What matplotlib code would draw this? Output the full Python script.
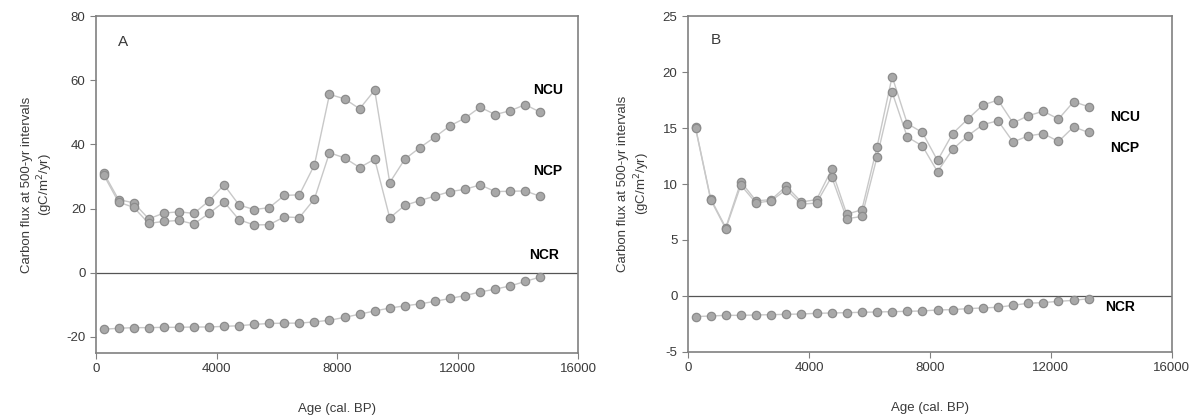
import matplotlib.pyplot as plt
import numpy as np

plt.rcParams['font.family'] = ['Liberation Sans', 'DejaVu Sans']
plt.rcParams['axes.unicode_minus'] = False

# panel A (500-yr bins, 250 .. 14750 cal BP)
age_a = np.arange(250, 15000, 500)
ncu_a = [31.2, 22.8, 21.8, 16.8, 18.6, 19.0, 18.5, 22.4, 27.4, 21.1,
         19.7, 20.3, 24.1, 24.3, 33.6, 55.6, 54.2, 51.1, 56.9, 28.1,
         35.4, 39.0, 42.3, 45.8, 48.2, 51.6, 49.3, 50.5, 52.4, 50.0]
ncp_a = [30.6, 22.0, 20.4, 15.4, 16.0, 16.3, 15.2, 18.5, 22.1, 16.5,
         14.9, 15.0, 17.4, 17.2, 23.0, 37.4, 35.8, 32.8, 35.4, 17.1,
         21.0, 22.5, 23.9, 25.3, 26.0, 27.4, 25.3, 25.4, 25.5, 23.8]
ncr_a = [-17.6, -17.3, -17.1, -17.1, -17.0, -17.0, -16.9, -16.9, -16.7, -16.5,
         -16.1, -15.8, -15.7, -15.7, -15.3, -14.8, -13.9, -12.9, -11.9, -11.0,
         -10.3, -9.7, -8.9, -8.0, -7.1, -6.0, -5.1, -4.1, -2.7, -1.3]

# panel B (250 .. 13250 cal BP)
age_b = np.arange(250, 13500, 500)
ncu_b = [15.05, 8.7, 6.1, 10.2, 8.5, 8.6, 9.8, 8.4, 8.6, 11.3,
         7.3, 7.7, 13.3, 19.6, 15.4, 14.6, 12.1, 14.5, 15.8, 17.05,
         17.5, 15.45, 16.1, 16.5, 15.8, 17.35, 16.9]
ncp_b = [15.0, 8.6, 6.0, 9.9, 8.3, 8.5, 9.5, 8.2, 8.3, 10.65,
         6.9, 7.1, 12.4, 18.2, 14.2, 13.4, 11.1, 13.1, 14.3, 15.3,
         15.65, 13.75, 14.3, 14.5, 13.8, 15.1, 14.6]
ncr_b = [-1.84, -1.79, -1.73, -1.73, -1.70, -1.67, -1.64, -1.61, -1.55, -1.52,
         -1.49, -1.46, -1.43, -1.40, -1.37, -1.34, -1.25, -1.22, -1.13, -1.07,
         -1.01, -0.83, -0.65, -0.59, -0.48, -0.39, -0.24]

line_col = '#c8c8c8'
face_col = '#a8a8a8'
edge_col = '#8c8c8c'
txt_col = '#3a3a3a'

fig = plt.figure(figsize=(12, 4.17), dpi=100)
ax_a = fig.add_axes([0.08, 0.1535, 0.4017, 0.808])
ax_b = fig.add_axes([0.5733, 0.156, 0.4033, 0.8055])


def draw(ax, age, series):
    for vals in series:
        ax.plot(age, vals, '-', color=line_col, lw=1.0, zorder=2)
        ax.plot(age, vals, 'o', ms=6, mfc=face_col, mec=edge_col, mew=0.9, zorder=3)
    ax.axhline(0, color='#555555', lw=0.9, zorder=1)
    ax.set_xlim(0, 16000)
    ax.set_xticks([0, 4000, 8000, 12000, 16000])
    for s in ax.spines.values():
        s.set_color('#808080')
        s.set_linewidth(1.2)
    ax.tick_params(colors='#808080', labelcolor=txt_col, labelsize=9.5, length=4)
    ax.set_xlabel('Age (cal. BP)', fontsize=9.5, color=txt_col, labelpad=20)
    ax.set_ylabel('Carbon flux at 500-yr intervals\n(gC/m$^2$/yr)', fontsize=9.5,
                  color=txt_col, labelpad=8)


draw(ax_a, age_a, [ncu_a, ncp_a, ncr_a])
ax_a.set_ylim(-25, 80)
ax_a.set_yticks([-20, 0, 20, 40, 60, 80])
ax_a.text(900, 72, 'A', fontsize=11, color=txt_col, ha='center', va='center')
ax_a.text(15000, 57, 'NCU', fontsize=10, fontweight='bold', ha='center', va='center')
ax_a.text(15000, 31.6, 'NCP', fontsize=10, fontweight='bold', ha='center', va='center')
ax_a.text(14870, 5.6, 'NCR', fontsize=10, fontweight='bold', ha='center', va='center')

draw(ax_b, age_b, [ncu_b, ncp_b, ncr_b])
ax_b.set_ylim(-5, 25)
ax_b.set_yticks([-5, 0, 5, 10, 15, 20, 25])
ax_b.text(925, 22.9, 'B', fontsize=11, color=txt_col, ha='center', va='center')
ax_b.text(14450, 16.0, 'NCU', fontsize=10, fontweight='bold', ha='center', va='center')
ax_b.text(14450, 13.2, 'NCP', fontsize=10, fontweight='bold', ha='center', va='center')
ax_b.text(14280, -1.0, 'NCR', fontsize=10, fontweight='bold', ha='center', va='center')

fig.savefig('out.png', dpi=100)
